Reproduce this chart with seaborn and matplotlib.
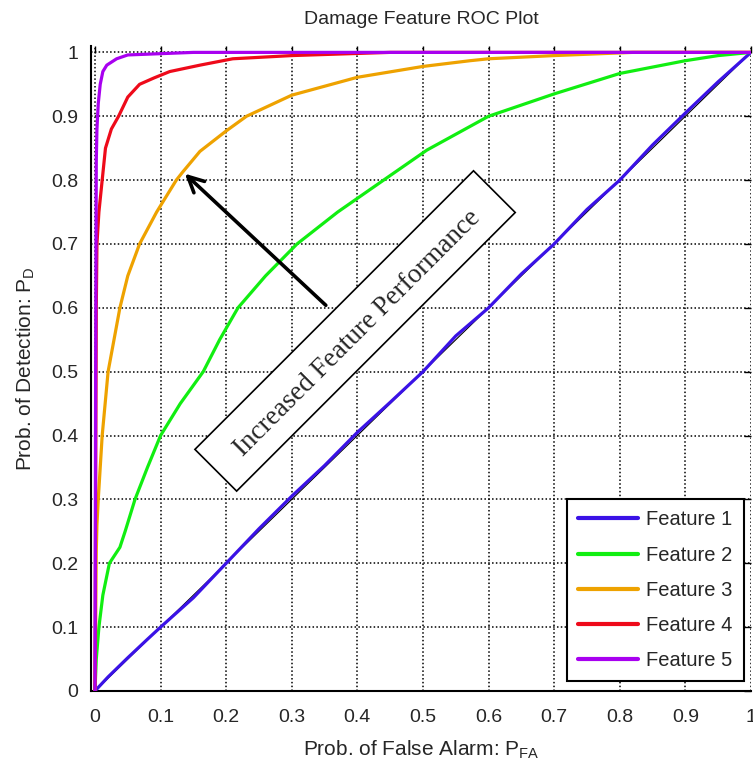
import numpy as np
import pandas as pd
import seaborn as sns
import matplotlib
matplotlib.use("Agg")
import matplotlib.pyplot as plt
from matplotlib.patches import Rectangle
from matplotlib.transforms import Affine2D, ScaledTranslation

# ---- data ----
f1_x = [0, 0.02, 0.05, 0.08, 0.1, 0.15, 0.2, 0.25, 0.3, 0.35, 0.4, 0.45, 0.5, 0.55, 0.6, 0.65, 0.7, 0.75, 0.8, 0.85, 0.9, 0.95, 1.0]
f1_y = [0, 0.022, 0.052, 0.081, 0.1, 0.146, 0.2, 0.254, 0.305, 0.353, 0.405, 0.452, 0.5, 0.556, 0.6, 0.653, 0.7, 0.754, 0.8, 0.855, 0.905, 0.954, 1.0]

f2_x = [0, 0.002, 0.006, 0.012, 0.022, 0.038, 0.046, 0.061, 0.08, 0.1, 0.13, 0.165, 0.19, 0.218, 0.26, 0.308, 0.37, 0.44, 0.506, 0.6, 0.7, 0.8, 0.9, 0.95, 1.0]
f2_y = [0, 0.05, 0.1, 0.15, 0.2, 0.225, 0.25, 0.3, 0.35, 0.4, 0.45, 0.5, 0.55, 0.6, 0.65, 0.7, 0.75, 0.8, 0.847, 0.9, 0.935, 0.967, 0.987, 0.995, 1.0]

f3_x = [0, 0.001, 0.002, 0.003, 0.005, 0.011, 0.02, 0.038, 0.05, 0.068, 0.094, 0.124, 0.134, 0.16, 0.2, 0.231, 0.3, 0.4, 0.5, 0.572, 0.6, 0.7, 0.82, 1.0]
f3_y = [0, 0.1, 0.22, 0.26, 0.3, 0.4, 0.5, 0.6, 0.65, 0.7, 0.75, 0.8, 0.813, 0.845, 0.877, 0.9, 0.933, 0.961, 0.978, 0.987, 0.99, 0.995, 1.0, 1.0]

f4_x = [0, 0.001, 0.002, 0.003, 0.006, 0.011, 0.016, 0.025, 0.036, 0.05, 0.068, 0.09, 0.114, 0.16, 0.21, 0.3, 0.45, 1.0]
f4_y = [0, 0.3, 0.6, 0.7, 0.75, 0.8, 0.85, 0.88, 0.9, 0.93, 0.95, 0.96, 0.97, 0.98, 0.99, 0.995, 1.0, 1.0]

f5_x = [0, 0.001, 0.002, 0.003, 0.005, 0.008, 0.012, 0.018, 0.033, 0.05, 0.15, 1.0]
f5_y = [0, 0.5, 0.83, 0.88, 0.92, 0.95, 0.97, 0.98, 0.99, 0.996, 1.0, 1.0]

features = ["Feature 1", "Feature 2", "Feature 3", "Feature 4", "Feature 5"]
colors = ["#3a12e6", "#11ee11", "#eea200", "#ee0a1a", "#a800f0"]
x_ticks = [0, 0.1, 0.2, 0.3, 0.4, 0.5, 0.6, 0.7, 0.8, 0.9, 1.0]
tick_labels = ["0", "0.1", "0.2", "0.3", "0.4", "0.5", "0.6", "0.7", "0.8", "0.9", "1"]

title = "Damage Feature ROC Plot"
xlabel = "Prob. of False Alarm: P$_\\mathregular{FA}$"
ylabel = "Prob. of Detection: P$_\\mathregular{D}$"
annot_text = "Increased Feature Performance"

# ---- build frame ----
xs = [f1_x, f2_x, f3_x, f4_x, f5_x]
ys = [f1_y, f2_y, f3_y, f4_y, f5_y]
frames = []
for name, x, y in zip(features, xs, ys):
    frames.append(pd.DataFrame({"fpr": x, "tpr": y, "feature": name}))
df = pd.concat(frames, ignore_index=True)

sns.set_theme(style="white")
plt.rcParams["font.family"] = ["Liberation Sans", "DejaVu Sans"]
plt.rcParams["mathtext.fontset"] = "custom"
plt.rcParams["mathtext.rm"] = "Liberation Sans"

fig = plt.figure(figsize=(7.53, 7.68), dpi=100)
ax = fig.add_axes([0.1209, 0.1003, 0.8764, 0.8398])

# chance diagonal
ax.plot([0, 1], [0, 1], color="black", lw=0.8, zorder=2)

sns.lineplot(data=df, x="fpr", y="tpr", hue="feature", hue_order=features,
             palette=colors, sort=False, estimator=None, units="feature",
             lw=2.3, ax=ax, zorder=3)

ax.set_xlim(-0.006, 1.0)
ax.set_ylim(0, 1.01)
ax.set_xticks(x_ticks)
ax.set_xticklabels(tick_labels)
ax.set_yticks(x_ticks)
ax.set_yticklabels(tick_labels)
ax.grid(True, color="black", linestyle=(0, (1, 1.5)), lw=1.1)
ax.set_axisbelow(True)

for s in ["top", "right"]:
    ax.spines[s].set_visible(False)
for s in ["left", "bottom"]:
    ax.spines[s].set_color("black")
    ax.spines[s].set_linewidth(1.5)

ax.tick_params(axis="both", which="major", direction="in", length=5, width=1,
               color="black", labelsize=14, top=True, right=True)
ax.tick_params(axis="x", pad=13)
ax.tick_params(axis="y", pad=9)

ax.set_title(title, fontsize=14, pad=16)
ax.set_xlabel(xlabel, fontsize=15, labelpad=9)
ax.set_ylabel(ylabel, fontsize=15, labelpad=10)

# annotation arrow and box
ax.annotate("", xy=(0.134, 0.813), xytext=(0.355, 0.601),
            arrowprops=dict(arrowstyle="->", lw=2.6, color="black", mutation_scale=28),
            zorder=5)
cx, cy = 0.3965, 0.5638
box_tr = Affine2D().rotate_deg(45) + ScaledTranslation(cx, cy, ax.transData)
ax.add_patch(Rectangle((-197, -29.5), 394, 59, transform=box_tr, fc="white",
                       ec="black", lw=1.2, zorder=6, clip_on=False))
ax.text(cx, cy, annot_text, rotation=45, rotation_mode="anchor",
        ha="center", va="center_baseline", fontsize=19.5,
        family=["Liberation Serif", "DejaVu Serif"], zorder=7)

leg = ax.legend(loc="lower right", bbox_to_anchor=(0.989, 0.0155), borderaxespad=0,
                fontsize=14.5, handlelength=3.0, labelspacing=0.8, handletextpad=0.4,
                borderpad=0.55, borderaxespad_=None) if False else None
leg = ax.legend(loc="lower right", bbox_to_anchor=(0.989, 0.0155), borderaxespad=0,
                fontsize=14.5, handlelength=3.0, labelspacing=0.8, handletextpad=0.4,
                borderpad=0.55, frameon=True, fancybox=False, edgecolor="black", framealpha=1)
leg.get_frame().set_linewidth(1.5)
for line in leg.get_lines():
    line.set_linewidth(3)

fig.savefig("out.png", dpi=100)
